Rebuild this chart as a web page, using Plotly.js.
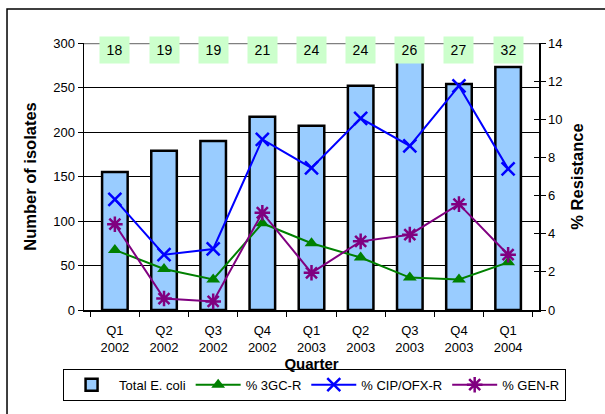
<!DOCTYPE html>
<html>
<head>
<meta charset="utf-8">
<script src="https://cdn.plot.ly/plotly-3.0.1.min.js"></script>
<style>
  html, body { margin: 0; padding: 0; background: #fff; }
  #chart { width: 605px; height: 414px; }
</style>
</head>
<body>
<div id="chart"></div>
<script>
// Quarterly E. coli isolates and resistance percentages
const quarters = ["Q1<br>2002", "Q2<br>2002", "Q3<br>2002", "Q4<br>2002", "Q1<br>2003",
                  "Q2<br>2003", "Q3<br>2003", "Q4<br>2003", "Q1<br>2004"];
const totalEcoli = [155, 179, 190, 217, 207, 252, 279, 254, 273];
const pct3GC = [3.15, 2.15, 1.6, 4.55, 3.5, 2.75, 1.7, 1.6, 2.5];
const pctCIP = [5.8, 2.9, 3.2, 8.95, 7.45, 10.05, 8.6, 11.75, 7.4];
const pctGEN = [4.5, 0.6, 0.45, 5.1, 1.95, 3.6, 3.95, 5.55, 2.9];
const boxCounts = [18, 19, 19, 21, 24, 24, 26, 27, 32];

const font = "Liberation Sans, Arial, sans-serif";

const traces = [
  {
    type: "bar", name: "Total E. coli", x: quarters, y: totalEcoli,
    width: 0.52,
    marker: { color: "#99CCFF", line: { color: "#000", width: 2.5 } },
    yaxis: "y"
  },
  {
    type: "scatter", mode: "lines+markers", name: "% 3GC-R", x: quarters, y: pct3GC,
    yaxis: "y2",
    line: { color: "#008000", width: 2 },
    marker: { symbol: "triangle-up", size: 12, color: "#008000" }
  },
  {
    type: "scatter", mode: "lines+markers", name: "% CIP/OFX-R", x: quarters, y: pctCIP,
    yaxis: "y2",
    line: { color: "#0000FF", width: 2 },
    marker: { symbol: "x-thin", size: 13, color: "#0000FF", line: { color: "#0000FF", width: 2.5 } }
  },
  {
    type: "scatter", mode: "lines+markers", name: "% GEN-R", x: quarters, y: pctGEN,
    yaxis: "y2",
    line: { color: "#800080", width: 2 },
    marker: { symbol: "asterisk", size: 13, color: "#800080", line: { color: "#800080", width: 2.5 } }
  }
];

// Count boxes above each quarter
const annotations = quarters.map((q, i) => ({
  x: q, xref: "x", y: 1.026, yref: "paper",
  text: String(boxCounts[i]), showarrow: false,
  bgcolor: "#CCFFCC", borderpad: 5, width: 19, height: 16,
  font: { family: font, size: 14, color: "#000" }
}));

const layout = {
  width: 605, height: 414,
  margin: { l: 84, r: 66, t: 43, b: 104 },
  paper_bgcolor: "#fff", plot_bgcolor: "#fff",
  font: { family: font, size: 13, color: "#000" },
  showlegend: true,
  bargap: 0.48,
  xaxis: {
    type: "category",
    showline: true, linecolor: "#000", linewidth: 1.5,
    ticks: "outside", tickson: "boundaries", ticklen: 5, tickcolor: "#000",
    ticklabelstandoff: 8,
    tickfont: { family: font, size: 13 },
    title: { text: "<b>Quarter</b>", font: { family: font, size: 15 }, standoff: 1 },
    fixedrange: true
  },
  yaxis: {
    range: [0, 300], dtick: 50,
    showline: true, linecolor: "#000", linewidth: 1.5,
    ticks: "outside", ticklen: 5, tickcolor: "#000",
    showgrid: true, gridcolor: "#000", gridwidth: 1,
    zeroline: false,
    tickfont: { family: font, size: 13 },
    title: { text: "<b>Number of isolates</b>", font: { family: font, size: 16.5 }, standoff: 12 }
  },
  yaxis2: {
    range: [0, 14], dtick: 2, overlaying: "y", side: "right",
    showline: true, linecolor: "#000", linewidth: 1.5,
    ticks: "outside", ticklen: 5, tickcolor: "#000",
    showgrid: false, zeroline: false,
    tickfont: { family: font, size: 13 },
    title: { text: "<b>% Resistance</b>", font: { family: font, size: 16.5 }, standoff: 10 }
  },
  yaxis3: {
    range: [0, 14], dtick: 2, overlaying: "y", side: "right",
    showline: false, ticks: "inside", ticklen: 5, tickcolor: "#000",
    showticklabels: false, showgrid: false, zeroline: false
  },
  legend: {
    orientation: "h", x: -0.046, xanchor: "left", y: -0.22, yanchor: "top",
    bordercolor: "#000", borderwidth: 1, bgcolor: "#fff",
    font: { family: font, size: 13 },
    itemwidth: 45, tracegroupgap: 0
  },
  shapes: [
    // grey top rule at 300
    { type: "line", xref: "paper", yref: "y", x0: 0, x1: 1, y0: 300, y1: 300,
      line: { color: "#808080", width: 2.5 }, layer: "below" },
    // chart outer frame
    { type: "rect", xref: "paper", yref: "paper", x0: -0.1692, x1: 1.25, y0: -0.6, y1: 1.1273,
      line: { color: "#000", width: 1.5 } }
  ],
  annotations: annotations
};

// invisible trace to activate the inner-tick axis
traces.push({ type: "scatter", x: [quarters[0]], y: [0], yaxis: "y3", mode: "none",
  showlegend: false, hoverinfo: "skip" });

Plotly.newPlot("chart", traces, layout, { displayModeBar: false, staticPlot: true });
</script>
</body>
</html>
